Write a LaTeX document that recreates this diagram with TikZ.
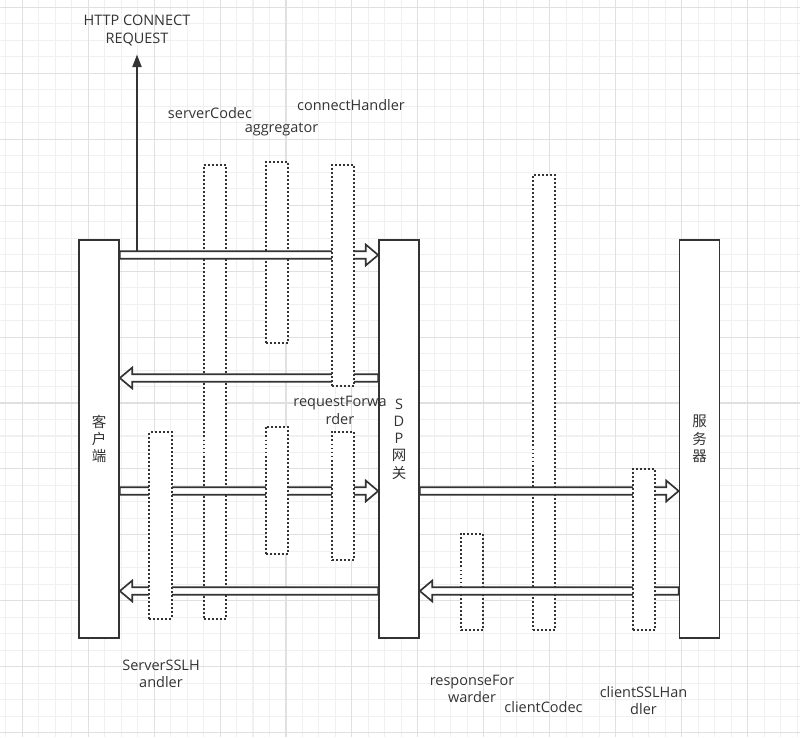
\documentclass[tikz,border=0pt]{standalone}
\usepackage{fontspec}
\setmainfont{Open Sans}
\newfontfamily\cjk{Noto Sans CJK SC}
\usetikzlibrary{arrows.meta,calc}

\begin{document}
\begin{tikzpicture}[x=0.025cm,y=-0.025cm,
    every node/.style={font=\fontsize{10.3}{12.3}\selectfont, text=black!80},
    lane/.style={draw=black!80, line width=1.2pt, fill=white, minimum width=1cm, inner sep=0pt, align=center},
    handler/.style={draw=black!80, line width=1.2pt, dash pattern=on 1.4pt off 1.45pt, fill=white, minimum width=0.56cm, inner sep=0pt},
    tag/.style={align=center},
    zh/.style={font=\fontsize{10.3}{12.3}\cjk},
    flex/.style={draw=black!80, line width=1.2pt, fill=white,
      to path={let \p1=(\tikztostart), \p2=(\tikztotarget), \n1={ifthenelse(\x2>\x1,1,-1)} in
        (\x1,{\y1+2.7pt}) -- ({\x2-\n1*8.8pt},{\y1+2.7pt}) -- ({\x2-\n1*8.8pt},{\y1+7.4pt}) -- (\x2,\y1)
        -- ({\x2-\n1*8.8pt},{\y1-7.4pt}) -- ({\x2-\n1*8.8pt},{\y1-2.7pt}) -- (\x1,{\y1-2.7pt}) -- cycle}}]
    \useasboundingbox (0,0) rectangle (800,737);
    \foreach \i in {0,...,48} \draw[black!6, line width=0.75pt] ({5.7+16.4875*\i},0) -- ++(0,737);
    \foreach \i in {0,...,44} \draw[black!6, line width=0.75pt] (0,{7.3+16.4875*\i}) -- ++(800,0);
    \foreach \i in {0,...,11} \draw[black!12, line width=0.75pt] ({22.2+65.95*\i},0) -- ++(0,737);
    \foreach \i in {0,...,11} \draw[black!12, line width=0.75pt] (0,{7.3+65.95*\i}) -- ++(800,0);

    \node[lane, zh, minimum height=9.95cm] (client) at (99,439) {客\\户\\端};
    \node[lane, minimum height=9.95cm] (gw) at (399,439) {S\\D\\P\\{\cjk 网}\\{\cjk 关}};
    \node[lane, zh, minimum height=9.95cm] (server) at (699.5,439) {服\\务\\器};

    \node[handler, minimum height=11.35cm] (codec) at (215,392) {};
    \node[handler, minimum height=4.525cm] (aggUp) at (277,252.5) {};
    \node[handler, minimum height=2.4cm] (respFwd) at (472,582) {};
    \node[handler, minimum height=11.375cm] (cliCodec) at (544,402.5) {};

    \draw[flex] (client.east |- 0,255) to (gw.west |- 0,255);
    \draw[flex] (gw.west |- 0,378) to (client.east |- 0,378);
    \draw[flex] (client.east |- 0,491) to (gw.west |- 0,491);
    \draw[flex] (gw.west |- 0,591) to (client.east |- 0,591);
    \draw[flex] (gw.east |- 0,491) to (server.west |- 0,491);
    \draw[flex] (server.west |- 0,591) to (gw.east |- 0,591);

    \node[handler, minimum height=5.525cm] (connect) at (343,275.5) {};
    \node[handler, minimum height=4.675cm] (sslSrv) at (160.5,525.5) {};
    \node[handler, minimum height=3.175cm] (aggLow) at (277,490.5) {};
    \node[handler, minimum height=3.2cm] (reqFwd) at (343,496) {};
    \node[handler, minimum height=4.025cm] (sslCli) at (644,549.5) {};

    \node[tag] (httpreq) at (137,30.5) {HTTP CONNECT\\REQUEST};
    \node[tag] (lcodec) at (210,113) {serverCodec};
    \node[tag] (lagg) at (281.5,129.5) {aggregator};
    \node[tag] (lconnect) at (351,105) {connectHandler};
    \node[tag] (lreq) at (340,410.5) {requestForwa\\rder};
    \node[tag] (lsslsrv) at (161,674) {ServerSSLH\\andler};
    \node[tag] (lresp) at (472,689) {responseFor\\warder};
    \node[tag] (lclicodec) at (543.5,707) {clientCodec};
    \node[tag] (lsslcli) at (643.5,700.5) {clientSSLHan\\dler};

    \coordinate (tap) at (137,251.3);
    \draw[draw=black!80, line width=1.3pt, -{Triangle[length=9pt,width=6.5pt]}, shorten >=2.8pt] (tap) -- (httpreq);
\end{tikzpicture}
\end{document}
